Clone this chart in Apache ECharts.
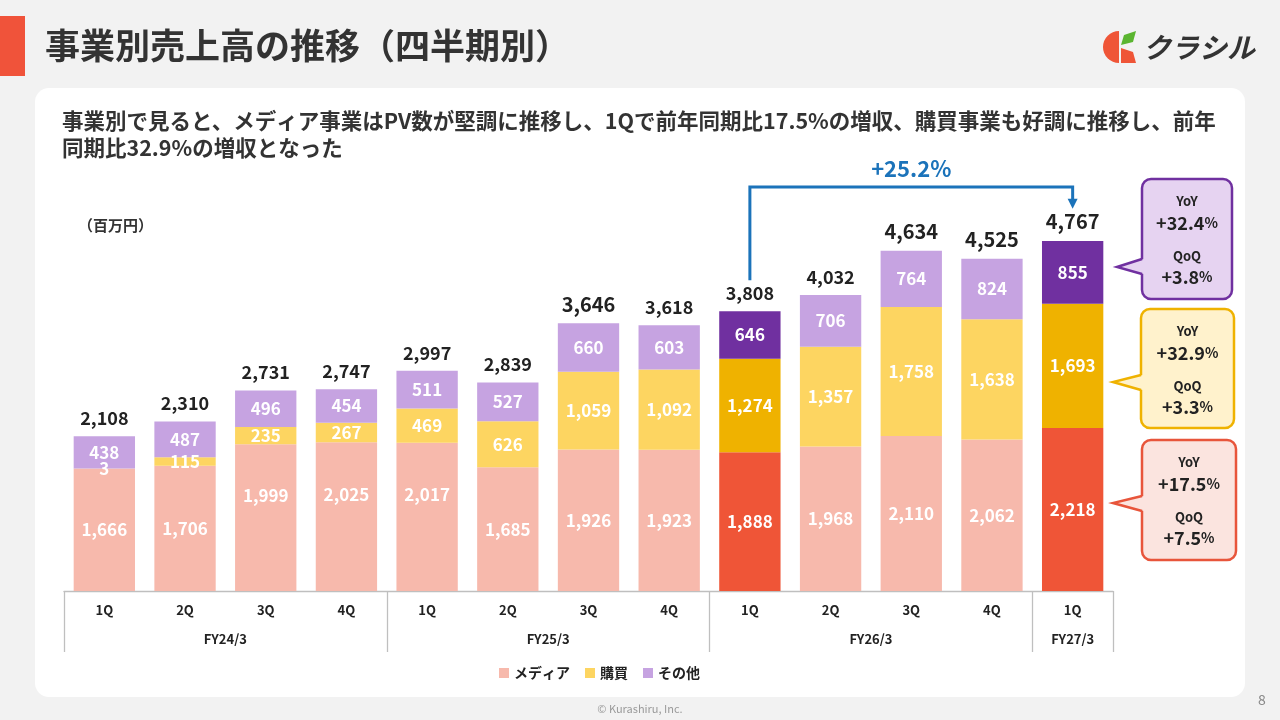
<!DOCTYPE html>
<html><head><meta charset="utf-8">
<script src="https://cdn.jsdelivr.net/npm/echarts@6/dist/echarts.min.js"></script>
<style>html,body{margin:0;padding:0;background:#F2F2F2;}#c{width:1280px;height:720px;}</style>
</head><body><div id="c"></div>
<script>
// ---- data ----
const quarters = ['1Q','2Q','3Q','4Q','1Q','2Q','3Q','4Q','1Q','2Q','3Q','4Q','1Q'];
const fiscalYears = ['FY24/3','FY25/3','FY26/3','FY27/3'];
const fiscalYearSizes = [4,4,4,1];
const media = [1666,1706,1999,2025,2017,1685,1926,1923,1888,1968,2110,2062,2218];
const purchase = [3,115,235,267,469,626,1059,1092,1274,1357,1758,1638,1693];
const other = [438,487,496,454,511,527,660,603,646,706,764,824,855];
const totals = [2108,2310,2731,2747,2997,2839,3646,3618,3808,4032,4634,4525,4767];
const seriesNames = ['メディア','購買','その他'];
const highlighted = [8,12];
const growthLabel = '+25.2%';
const callouts = [
  {yoy:'+32.4', qoq:'+3.8'},
  {yoy:'+32.9', qoq:'+3.3'},
  {yoy:'+17.5', qoq:'+7.5'}
];

// ---- style ----
const FONT = "'Noto Sans CJK JP','Noto Sans',sans-serif";
const normalColors = ['#F7B9AC','#FDD561','#C6A3E1'];
const hiColors = ['#EF5537','#EFB200','#7030A0'];
const bigTotalIdx = [6,10,11,12];
const liftedMediaLabel = [2,3,4];

const fmt = v => v.toLocaleString('en-US');

// fiscal-year group ticks / label centres
const fyTicks = [0];
fiscalYearSizes.forEach(s => fyTicks.push(fyTicks[fyTicks.length-1] + s));
const fyCenters = fiscalYearSizes.map((s,i) => fyTicks[i] + s/2);

function mkData(arr, k) {
  return arr.map((v,i) => {
    const d = {value: v};
    if (highlighted.includes(i)) d.itemStyle = {color: hiColors[k]};
    if (k === 0 && liftedMediaLabel.includes(i)) d.label = {offset:[0,-22]};
    return d;
  });
}

const chart = echarts.init(document.getElementById('c'), null, {renderer:'canvas'});

const segLabel = {show:true, position:'inside', color:'#fff', fontSize:17, fontWeight:'bold', fontFamily:FONT, formatter: p => fmt(p.value)};

const option = {
  backgroundColor: '#F2F2F2',
  animation: false,
  textStyle: {fontFamily: FONT},
  grid: {left:64, right:167, top:187, bottom:129, outerBoundsMode:'none'},
  legend: {
    data: seriesNames, left: 494, top: 661, icon: 'rect', itemWidth: 10, itemHeight: 10, itemGap: 15,
    textStyle: {color:'#222', fontSize:14, fontWeight:'bold', fontFamily:FONT}
  },
  xAxis: [
    {type:'category', data: quarters, position:'bottom',
     axisLine:{show:true, lineStyle:{color:'#BFBFBF', width:1.3}},
     axisTick:{show:false},
     axisLabel:{margin:13, color:'#222', fontSize:13, fontWeight:'bold', fontFamily:FONT, interval:0}},
    {type:'value', position:'bottom', min:0, max:quarters.length,
     axisLine:{show:false}, splitLine:{show:false},
     axisTick:{show:true, customValues: fyTicks, length:61, lineStyle:{color:'#BFBFBF', width:1.3}},
     axisLabel:{customValues: fyCenters, margin:42, color:'#222', fontSize:13, fontWeight:'bold', fontFamily:FONT,
       formatter: v => fiscalYears[fyCenters.indexOf(v)] || ''}}
  ],
  yAxis: {type:'value', min:0, max:5500, show:false},
  series: [
    {name: seriesNames[0], type:'bar', stack:'s', barCategoryGap:'24%', itemStyle:{color:normalColors[0]}, label:segLabel, data: mkData(media,0)},
    {name: seriesNames[1], type:'bar', stack:'s', itemStyle:{color:normalColors[1]}, label:segLabel, data: mkData(purchase,1)},
    {name: seriesNames[2], type:'bar', stack:'s', itemStyle:{color:normalColors[2]}, label:segLabel, data: mkData(other,2)},
    {name:'合計', type:'line', silent:true, symbol:'circle', symbolSize:2, z:5,
     itemStyle:{color:'rgba(0,0,0,0)'}, lineStyle:{width:0, opacity:0},
     label:{show:true, position:'top', distance:8, color:'#222', fontSize:18, fontWeight:'bold', fontFamily:FONT, formatter: p => fmt(p.value)},
     data: totals.map((v,i) => bigTotalIdx.includes(i) ? {value:v, label:{fontSize:20}} : v)}
  ]
};
chart.setOption(option);

// ---- annotations (positions derived from the chart's own scales) ----
const p8 = chart.convertToPixel({seriesIndex:0}, [8, totals[8]]);
const p12 = chart.convertToPixel({seriesIndex:0}, [12, totals[12]]);
const yTop = chart.convertToPixel({seriesIndex:0}, [0, 5500])[1];
const BLUE = '#1B73BA';

const g = [];
g.push({type:'rect', z:-10, shape:{x:35, y:88, width:1210, height:609, r:14}, style:{fill:'#fff'}});
g.push({type:'rect', shape:{x:0, y:16, width:25, height:60}, style:{fill:'#F0533A'}});
g.push({type:'text', x:45, y:46, style:{text:'事業別売上高の推移（四半期別）', fill:'#333', font:"bold 35px " + FONT, textVerticalAlign:'middle'}});
// logo
g.push({type:'sector', shape:{cx:1119, cy:47, r:16, r0:0, startAngle:Math.PI/2, endAngle:Math.PI*3/2, clockwise:true}, style:{fill:'#EF5537'}});
g.push({type:'polygon', shape:{points:[[1121,45],[1124,35],[1136,31],[1133,42]]}, style:{fill:'#5BB531'}});
g.push({type:'polygon', shape:{points:[[1121,48],[1133,52],[1136,63],[1121,63]]}, style:{fill:'#EF5537'}});
g.push({type:'text', x:1143, y:47, style:{text:'クラシル', fill:'#333', font:"italic bold 28px " + FONT, textVerticalAlign:'middle'}});
// subtitle
g.push({type:'text', x:62, y:121, style:{text:'事業別で見ると、メディア事業はPV数が堅調に推移し、1Qで前年同期比17.5%の増収、購買事業も好調に推移し、前年', fill:'#333', font:"bold 21.5px " + FONT, textVerticalAlign:'middle'}});
g.push({type:'text', x:62, y:148, style:{text:'同期比32.9%の増収となった', fill:'#333', font:"bold 21.5px " + FONT, textVerticalAlign:'middle'}});
g.push({type:'text', x:78, y:225, style:{text:'（百万円）', fill:'#333', font:"bold 15px " + FONT, textVerticalAlign:'middle'}});
// bracket
const tipY = p12[1] - 32;
g.push({type:'polyline', shape:{points:[[p8[0], p8[1]-31],[p8[0], yTop],[p12[0], yTop],[p12[0], tipY-8]]}, style:{stroke:BLUE, lineWidth:3, fill:null}});
g.push({type:'polygon', shape:{points:[[p12[0]-5, tipY-10],[p12[0]+5, tipY-10],[p12[0], tipY]]}, style:{fill:BLUE}});
g.push({type:'text', x:(p8[0]+p12[0])/2, y:yTop-18, style:{text:growthLabel, fill:BLUE, font:"bold 22px " + FONT, textAlign:'center', textVerticalAlign:'middle'}});
// callouts
const boxes = [
  {x:1142, y:179, w:90, h:120, fill:'#E6D3F1', stroke:'#7030A0', wedge:[[1142,259],[1117,267],[1142,274]]},
  {x:1141, y:309, w:93, h:119, fill:'#FFF2CC', stroke:'#EFB200', wedge:[[1141,375],[1113,382],[1141,390]]},
  {x:1142, y:440, w:94, h:120, fill:'#FBE4DF', stroke:'#E8553B', wedge:[[1142,496],[1113,503],[1142,511]]}
];
boxes.forEach((b,i) => {
  g.push({type:'rect', shape:{x:b.x, y:b.y, width:b.w, height:b.h, r:9}, style:{fill:b.fill, stroke:b.stroke, lineWidth:2.5}});
  const wf = b.wedge.map((p,j) => j===1 ? p : [p[0]+2, p[1]]);
  g.push({type:'polygon', shape:{points:wf}, style:{fill:b.fill}});
  g.push({type:'polyline', shape:{points:b.wedge}, style:{stroke:b.stroke, lineWidth:2.5, fill:null}});
  const cx = b.x + b.w/2;
  const c = callouts[i];
  const rich = {n:{fontSize:18, fontWeight:'bold', fill:'#222', fontFamily:FONT}, p:{fontSize:14, fontWeight:'bold', fill:'#222', fontFamily:FONT}};
  g.push({type:'text', x:cx, y:b.y+22, style:{text:'YoY', fill:'#222', font:"bold 13px " + FONT, textAlign:'center', textVerticalAlign:'middle'}});
  g.push({type:'text', x:cx, y:b.y+44, style:{text:'{n|'+c.yoy+'}{p|%}', rich:rich, textAlign:'center', textVerticalAlign:'middle'}});
  g.push({type:'text', x:cx, y:b.y+77, style:{text:'QoQ', fill:'#222', font:"bold 13px " + FONT, textAlign:'center', textVerticalAlign:'middle'}});
  g.push({type:'text', x:cx, y:b.y+98, style:{text:'{n|'+c.qoq+'}{p|%}', rich:rich, textAlign:'center', textVerticalAlign:'middle'}});
});
// footer
g.push({type:'text', x:640, y:709, style:{text:'© Kurashiru, Inc.', fill:'#9A9A9A', font:"11px " + FONT, textAlign:'center', textVerticalAlign:'middle'}});
g.push({type:'text', x:1262, y:700, style:{text:'8', fill:'#888', font:"14px " + FONT, textAlign:'center', textVerticalAlign:'middle'}});

chart.setOption({graphic: g});
</script>
</body></html>
